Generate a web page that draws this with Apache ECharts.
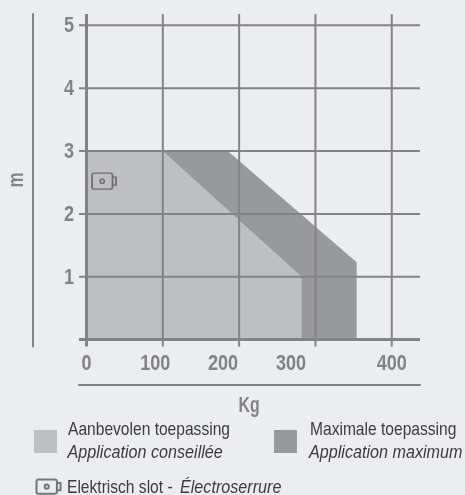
<!DOCTYPE html>
<html>
<head>
<meta charset="utf-8">
<style>
  html, body { margin: 0; padding: 0; background: #ecedef; }
  #chart { width: 465px; height: 495px; }
</style>
</head>
<body>
<div id="chart"></div>
<script src="https://cdn.jsdelivr.net/npm/echarts@6/dist/echarts.min.js"></script>
<script>
// limit shapes, [Kg, m]
var maxPoints = [[100, 3], [185, 3], [354, 1.23], [354, 0]];
var recommendedPoints = [[0, 0], [0, 3], [100, 3], [282, 1], [282, 0]];
var lockPoint = [[23, 2.52]];

// grid positions
var kgTicks = [0, 100, 200, 300, 400];
var mTicks = [0, 1, 2, 3, 4, 5];

// the Kg labels are not centred on their gridlines in the original
var kgLabelValues = [0, 90, 179, 268, 400];
var kgLabels = ['0', '100', '200', '300', '400'];
var mLabels = [1, 2, 3, 4, 5];

var recommendedName = 'Aanbevolen toepassing';
var recommendedNameFr = 'Application conseillée';
var maxName = 'Maximale toepassing';
var maxNameFr = 'Application maximum';
var lockName = 'Elektrisch slot - ';
var lockNameFr = 'Électroserrure';

var lineColor = '#828385';
var labelColor = '#828385';
var textColor = '#3c3c3e';
var sans = '"Liberation Sans", sans-serif';
// no narrow font is installed, so the text gets squeezed horizontally
var narrowScale = 0.82;
var narrowItalicScale = 0.85;
var lockIcon = 'path://M3,1 H19 Q21,1 21,3 V13 Q21,15 19,15 H3 Q1,15 1,13 V3 Q1,1 3,1 Z ' +
  'M21,4.5 H24.5 V11.5 H21 ' +
  'M9,8 A2,2 0 1 0 13,8 A2,2 0 1 0 9,8 Z';

function gridLines(name, dim) {
  return {
    name: name,
    type: 'custom',
    z: 3,
    silent: true,
    data: (dim === 0 ? kgTicks : mTicks).map(function (v) { return [v]; }),
    encode: dim === 0 ? { x: 0 } : { y: 0 },
    renderItem: function (params, api) {
      var v = api.value(0);
      var cs = params.coordSys;
      var p = dim === 0 ? api.coord([v, 0]) : api.coord([0, v]);
      var shape = dim === 0
        ? { x1: p[0], y1: cs.y, x2: p[0], y2: cs.y + cs.height }
        : { x1: cs.x, y1: p[1], x2: cs.x + cs.width, y2: p[1] };
      return {
        type: 'line',
        shape: shape,
        style: { stroke: lineColor, lineWidth: v === 0 ? 3 : 2 }
      };
    }
  };
}

function tickText(x, y, text) {
  return {
    type: 'text',
    x: x,
    y: y,
    scaleX: narrowScale,
    style: {
      text: String(text), fontFamily: sans, fontWeight: 'bold', fontSize: 22,
      fill: labelColor, align: 'center', verticalAlign: 'middle'
    }
  };
}

function tickLabels(name, values, dim) {
  return {
    name: name,
    type: 'custom',
    z: 5,
    silent: true,
    clip: false,
    data: values.map(function (v) { return [v]; }),
    encode: dim === 0 ? { x: 0 } : { y: 0 },
    renderItem: function (params, api) {
      var v = api.value(0);
      var cs = params.coordSys;
      if (dim === 0) {
        return tickText(api.coord([v, 0])[0], cs.y + cs.height + 17, kgLabels[params.dataIndex]);
      }
      return tickText(cs.x - 10, api.coord([0, v])[1] + 1, v);
    }
  };
}

function narrowText(x, y, text, italic) {
  return {
    type: 'text',
    x: x,
    y: y,
    scaleX: italic ? narrowItalicScale : narrowScale,
    style: {
      text: text, fontFamily: sans, fontSize: 19, fontStyle: italic ? 'italic' : 'normal',
      fill: textColor, align: 'left', verticalAlign: 'middle'
    }
  };
}

function noText() {
  return '';
}

var chart = echarts.init(document.getElementById('chart'));
chart.setOption({
  animation: false,
  backgroundColor: '#ecedef',
  grid: { left: 79, top: 14, width: 341, height: 332.5, outerBoundsMode: 'none' },
  legend: [
    {
      left: 34, top: 430, padding: 0, itemWidth: 23, itemHeight: 23, icon: 'rect',
      data: [recommendedName], selectedMode: false, formatter: noText
    },
    {
      left: 274, top: 430, padding: 0, itemWidth: 23, itemHeight: 23, icon: 'rect',
      data: [maxName], selectedMode: false, formatter: noText
    },
    {
      left: 34, top: 477, padding: 0, itemWidth: 24, itemHeight: 15,
      data: [{ name: lockName, icon: lockIcon }], selectedMode: false, formatter: noText
    }
  ],
  graphic: [
    narrowText(68, 430, recommendedName),
    narrowText(67.5, 453, recommendedNameFr, true),
    narrowText(310, 430, maxName),
    narrowText(309, 453, maxNameFr, true),
    narrowText(67, 488, lockName),
    narrowText(180, 488, lockNameFr, true),
    {
      type: 'text', x: 249, y: 406, scaleX: 0.72,
      style: {
        text: 'Kg', fontFamily: sans, fontWeight: 'bold', fontSize: 22,
        fill: labelColor, align: 'center', verticalAlign: 'middle'
      }
    },
    {
      type: 'text', x: 17, y: 180, rotation: Math.PI / 2, scaleX: 0.77,
      style: {
        text: 'm', fontFamily: sans, fontWeight: 'bold', fontSize: 22,
        fill: labelColor, align: 'center', verticalAlign: 'middle'
      }
    }
  ],
  xAxis: [
    {
      type: 'value', min: -9.83, max: 437, position: 'bottom',
      splitLine: { show: false }, axisLine: { show: false }, axisTick: { show: false },
      axisLabel: { show: false }
    },
    {
      type: 'value', min: -9.83, max: 437, position: 'bottom', offset: 38,
      splitLine: { show: false }, axisTick: { show: false }, axisLabel: { show: false },
      axisLine: { show: true, onZero: false, lineStyle: { color: lineColor, width: 2 } }
    }
  ],
  yAxis: [
    {
      type: 'value', min: -0.11, max: 5.18, position: 'left',
      splitLine: { show: false }, axisLine: { show: false }, axisTick: { show: false },
      axisLabel: { show: false }
    },
    {
      type: 'value', min: -0.11, max: 5.18, position: 'left', offset: 46,
      splitLine: { show: false }, axisTick: { show: false }, axisLabel: { show: false },
      axisLine: { show: true, onZero: false, lineStyle: { color: lineColor, width: 2 } }
    }
  ],
  series: [
    {
      name: maxName, type: 'line', data: maxPoints, symbol: 'none', z: 1,
      itemStyle: { color: '#98999b' },
      lineStyle: { width: 0 },
      areaStyle: { color: '#98999b', opacity: 1 }
    },
    {
      name: recommendedName, type: 'line', data: recommendedPoints, symbol: 'none', z: 2,
      itemStyle: { color: '#bebfc1' },
      lineStyle: { width: 0 },
      areaStyle: { color: '#bebfc1', opacity: 1 }
    },
    gridLines('kgGrid', 0),
    gridLines('mGrid', 1),
    tickLabels('kgLabels', kgLabelValues, 0),
    tickLabels('mLabels', mLabels, 1),
    {
      name: lockName, type: 'scatter', data: lockPoint, z: 4,
      symbol: lockIcon, symbolSize: [24, 16],
      itemStyle: { color: 'none', borderColor: '#59595b', borderWidth: 1.4 }
    }
  ]
});
</script>
</body>
</html>
